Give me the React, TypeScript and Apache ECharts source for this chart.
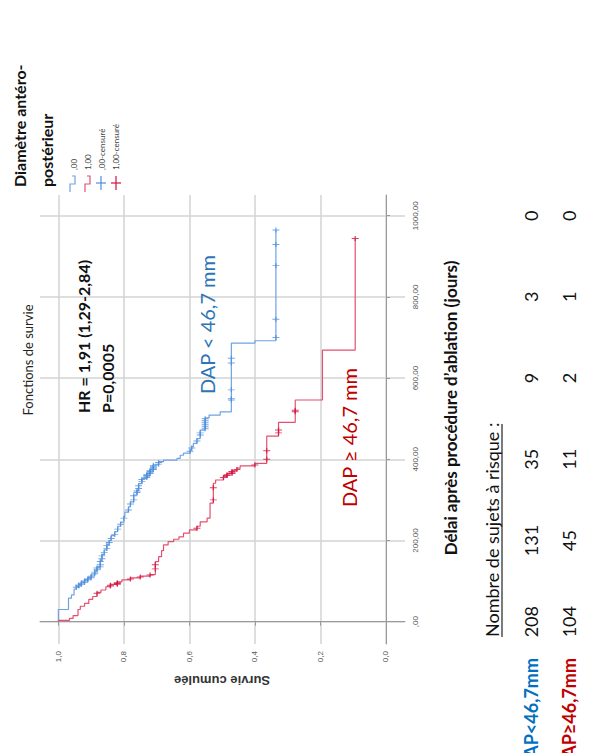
import React, { useEffect, useRef } from "react";
import * as echarts from "echarts";

const survivalTicks = [0, 0.2, 0.4, 0.6, 0.8, 1.0];
const timeTicks = [0, 200, 400, 600, 800, 1000];

// DAP < 46,7 mm  (",00")
const lowTimes = [0, 30, 58, 66, 80, 86, 92, 97, 103, 108, 115, 125, 135, 150, 165, 177, 190, 200, 212, 222, 235, 245, 258, 270, 283, 295, 312, 324, 340, 353, 365, 375, 386, 394, 398, 402, 410, 415, 423, 431, 439, 451, 472, 502, 509, 517, 686, 692, 965];
const lowSurv = [1, 0.969, 0.96, 0.952, 0.945, 0.938, 0.93, 0.92, 0.91, 0.9, 0.889, 0.882, 0.872, 0.867, 0.86, 0.852, 0.845, 0.839, 0.828, 0.819, 0.81, 0.8, 0.797, 0.786, 0.78, 0.77, 0.76, 0.755, 0.745, 0.73, 0.72, 0.71, 0.694, 0.679, 0.638, 0.628, 0.618, 0.598, 0.593, 0.588, 0.577, 0.567, 0.552, 0.54, 0.506, 0.472, 0.4, 0.336, 0.336];
const lowCensored = [85, 88, 90, 92, 95, 97, 100, 103, 105, 108, 112, 118, 122, 128, 132, 135, 140, 148, 155, 162, 170, 180, 188, 195, 205, 215, 228, 240, 255, 275, 290, 300, 310, 318, 322, 328, 335, 345, 350, 355, 358, 360, 362, 365, 368, 370, 372, 375, 378, 380, 382, 385, 388, 392, 420, 428, 445, 460, 465, 475, 480, 485, 490, 495, 500, 546, 550, 571, 637, 649, 700, 745, 877, 929, 965];

// DAP >= 46,7 mm  ("1,00")
const highTimes = [0, 3, 8, 15, 30, 38, 45, 55, 62, 72, 78, 86, 92, 98, 103, 108, 112, 116, 148, 160, 175, 189, 197, 203, 209, 218, 226, 235, 246, 255, 292, 341, 349, 358, 365, 372, 378, 384, 390, 457, 491, 546, 669, 944];
const highSurv = [1, 0.966, 0.955, 0.94, 0.933, 0.92, 0.907, 0.895, 0.882, 0.87, 0.855, 0.841, 0.82, 0.806, 0.78, 0.75, 0.72, 0.704, 0.694, 0.685, 0.679, 0.665, 0.648, 0.632, 0.618, 0.6, 0.577, 0.567, 0.546, 0.537, 0.527, 0.52, 0.496, 0.485, 0.47, 0.455, 0.445, 0.4, 0.364, 0.328, 0.277, 0.194, 0.094, 0.094];
const highCensored = [70, 88, 90, 92, 94, 96, 105, 110, 115, 130, 140, 230, 300, 330, 355, 360, 362, 365, 368, 370, 375, 386, 400, 421, 465, 472, 517, 521, 944];

const atRiskLow = [208, 131, 35, 9, 3, 0];
const atRiskHigh = [104, 45, 11, 2, 1, 0];
const atRiskTimes = [0, 200, 400, 600, 800, 1000];

const BLUE_LINE = "#6ea3e3";
const BLUE_MARK = "#4d8fdc";
const RED_LINE = "#e4506f";
const RED_MARK = "#d2123f";

const survAt = (times: number[], surv: number[], t: number) => {
  let s = surv[0];
  for (let i = 0; i < times.length; i++) if (times[i] <= t) s = surv[i];
  return s;
};

const PLUS = "path://M0,5 L10,5 M5,0 L5,10";
const FONT = "Lato, 'Open Sans', sans-serif";

export default function App() {
  const ref = useRef<HTMLDivElement>(null);
  useEffect(() => {
    document.body.style.margin = "0";
    const chart = echarts.init(ref.current!, null, { renderer: "svg" });
    chart.setOption({
      animation: false,
      backgroundColor: "#ffffff",
      grid: { left: 40, right: 184, top: 195, bottom: 109, containLabel: false },
      xAxis: {
        type: "value",
        inverse: true,
        min: -0.058,
        max: 1.056,
        axisLine: { show: true, lineStyle: { color: "#9a9a9a", width: 1 } },
        axisTick: { show: true, customValues: survivalTicks, length: 4, lineStyle: { color: "#9a9a9a" } },
        axisLabel: {
          customValues: survivalTicks,
          rotate: 90,
          margin: 7,
          fontSize: 8,
          color: "#555",
          fontFamily: "'Liberation Sans', Arial, sans-serif",
          formatter: (v: number) => v.toFixed(1).replace(".", ","),
        },
        splitLine: { show: true, lineStyle: { color: "#d3d3d3", width: 1.5 } },
      },
      yAxis: {
        type: "value",
        position: "right",
        min: -55,
        max: 1051,
        axisLine: { show: true, lineStyle: { color: "#9a9a9a", width: 1 } },
        axisTick: { show: true, customValues: timeTicks, length: 4, lineStyle: { color: "#9a9a9a" } },
        axisLabel: {
          customValues: timeTicks,
          rotate: 90,
          margin: 6,
          fontSize: 8,
          color: "#555",
          fontFamily: "'Liberation Sans', Arial, sans-serif",
          formatter: (v: number) => (v === 0 ? ",00" : v.toFixed(2).replace(".", ",")),
        },
        splitLine: { show: true, lineStyle: { color: "#d3d3d3", width: 1.5 } },
      },
      series: [
        {
          type: "line",
          step: "start",
          showSymbol: false,
          data: lowTimes.map((t, i) => [lowSurv[i], t]),
          lineStyle: { color: BLUE_LINE, width: 1.2 },
          z: 3,
        },
        {
          type: "line",
          step: "start",
          showSymbol: false,
          data: highTimes.map((t, i) => [highSurv[i], t]),
          lineStyle: { color: RED_LINE, width: 1.2 },
          z: 3,
        },
        {
          type: "scatter",
          symbol: PLUS,
          symbolSize: [7, 5],
          data: lowCensored.map((t) => [survAt(lowTimes, lowSurv, t), t]),
          itemStyle: { color: "transparent", borderColor: BLUE_MARK, borderWidth: 1.1 },
          z: 4,
        },
        {
          type: "scatter",
          symbol: PLUS,
          symbolSize: [7, 5],
          data: highCensored.map((t) => [survAt(highTimes, highSurv, t), t]),
          itemStyle: { color: "transparent", borderColor: RED_MARK, borderWidth: 1.1 },
          z: 4,
        },
      ],
    });

    const R = Math.PI / 2;
    const txt = (text: string, x: number, y: number, font: string, fill: string, align: string, rotation = R) => ({
      type: "text",
      x,
      y,
      rotation,
      style: { text, font, fill, align, textAlign: align, verticalAlign: "middle", textVerticalAlign: "middle" },
    });

    const yPix = (t: number) => chart.convertToPixel({ yAxisIndex: 0 }, t) as number;
    const graphics: any[] = [
      txt("Fonctions de survie", 28, 360, `13px ${FONT}`, "#222", "center"),
      txt("HR = 1,91 (1,29-2,84)", 83, 413, `bold 16px ${FONT}`, "#111", "left"),
      txt("P=0,0005", 107, 413, `bold 16px ${FONT}`, "#111", "left"),
      txt("DAP < 46,7 mm", 207, 394, `20px ${FONT}`, "#2e75b6", "left"),
      txt("DAP \u2265 46,7 mm", 349, 507, `20px ${FONT}`, "#c00000", "left"),
      txt("Survie cumulée", 222, 680, `bold 13px 'Liberation Sans', Arial, sans-serif`, "#333", "center", Math.PI),
      txt("Délai après procédure d\u2019ablation (jours)", 450, 408, `bold 17px ${FONT}`, "#111", "center"),
      txt("Nombre de sujets à risque :", 492, 637, `18px ${FONT}`, "#111", "left"),
      { type: "line", shape: { x1: 502, y1: 637, x2: 502, y2: 424 }, style: { stroke: "#222", lineWidth: 1.2 } },
      txt("Diamètre antéro-", 19, 187, `bold 16px ${FONT}`, "#111", "left"),
      txt("postérieur", 46, 187, `bold 16px ${FONT}`, "#111", "left"),
      // legend
      { type: "polyline", shape: { points: [[70, 192], [70, 184], [75, 184], [75, 176], [72, 176]] }, style: { stroke: BLUE_LINE, fill: "none", lineWidth: 1.2 } },
      txt(",00", 74, 170, `8px ${FONT}`, "#444", "left"),
      { type: "polyline", shape: { points: [[85, 192], [85, 184], [90, 184], [90, 176], [87, 176]] }, style: { stroke: RED_LINE, fill: "none", lineWidth: 1.2 } },
      txt("1,00", 88, 170, `8px ${FONT}`, "#444", "left"),
      { type: "line", shape: { x1: 101, y1: 176, x2: 101, y2: 190 }, style: { stroke: BLUE_MARK, lineWidth: 1.2 } },
      { type: "line", shape: { x1: 96, y1: 183, x2: 106, y2: 183 }, style: { stroke: BLUE_MARK, lineWidth: 1.2 } },
      txt(",00-censuré", 102, 170, `8px ${FONT}`, "#444", "left"),
      { type: "line", shape: { x1: 116, y1: 176, x2: 116, y2: 190 }, style: { stroke: RED_MARK, lineWidth: 1.2 } },
      { type: "line", shape: { x1: 111, y1: 183, x2: 121, y2: 183 }, style: { stroke: RED_MARK, lineWidth: 1.2 } },
      txt("1,00-censuré", 116, 170, `8px ${FONT}`, "#444", "left"),
      // risk table row labels
      txt("DAP<46,7mm", 531, 658, `bold 18px ${FONT}`, "#0070c0", "right"),
      txt("DAP\u226546,7mm", 569, 658, `bold 18px ${FONT}`, "#c00000", "right"),
    ];
    atRiskTimes.forEach((t, i) => {
      graphics.push(txt(String(atRiskLow[i]), 531, yPix(t), `18px ${FONT}`, "#111", "center"));
      graphics.push(txt(String(atRiskHigh[i]), 569, yPix(t), `18px ${FONT}`, "#111", "center"));
    });
    chart.setOption({ graphic: graphics });

    return () => chart.dispose();
  }, []);
  return <div ref={ref} style={{ width: 589, height: 753 }} />;
}
